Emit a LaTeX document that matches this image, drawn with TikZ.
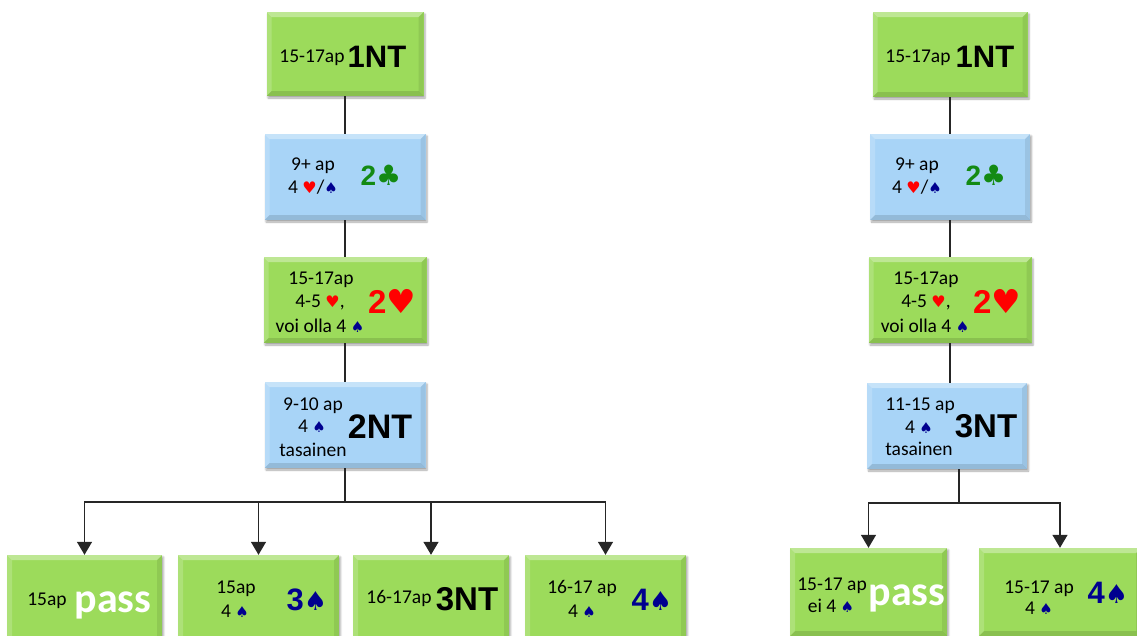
\documentclass[tikz,border=0pt]{standalone}
\usepackage{fontspec}
\setmainfont{Carlito}
\newfontfamily\bidfont{Liberation Sans}
\newfontfamily\suitfont{DejaVu Sans}
\usetikzlibrary{arrows.meta,shadows.blur}
\definecolor{boxgreen}{HTML}{9CDB5B}
\definecolor{boxblue}{HTML}{A8D4F7}
\definecolor{clubgreen}{HTML}{138A13}
\definecolor{spadeblue}{HTML}{00008F}
\definecolor{heartred}{HTML}{FF0000}
\newcommand{\hs}{{\suitfont\fontsize{16}{18}\selectfont\textcolor{heartred}{♥}}}
\newcommand{\ssp}{{\suitfont\fontsize{15}{17}\selectfont\textcolor{spadeblue}{♠}}}
\newcommand{\bsp}{{\suitfont\fontsize{26}{26}\selectfont ♠}}
\tikzset{
  bevel/.style={path picture={
    \path (path picture bounding box.north west) coordinate (pnw)
          (path picture bounding box.north east) coordinate (pne)
          (path picture bounding box.south west) coordinate (psw)
          (path picture bounding box.south east) coordinate (pse);
    \fill[white,opacity=0.35] (pnw) -- (pne) -- ([shift={(-5,5)}]pne) -- ([shift={(5,5)}]pnw) -- cycle;
    \fill[white,opacity=0.18] (pnw) -- ([shift={(5,5)}]pnw) -- ([shift={(5,-5)}]psw) -- (psw) -- cycle;
    \fill[black,opacity=0.12] (psw) -- ([shift={(5,-5)}]psw) -- ([shift={(-5,-5)}]pse) -- (pse) -- cycle;
    \fill[black,opacity=0.08] (pne) -- (pse) -- ([shift={(-5,-5)}]pse) -- ([shift={(-5,5)}]pne) -- cycle;
  }},
  bx/.style={rectangle, inner sep=0, bevel,
    blur shadow={shadow xshift=1.5pt, shadow yshift=-2pt, shadow opacity=35, shadow blur steps=4}},
  gbox/.style={bx, fill=boxgreen},
  bbox/.style={bx, fill=boxblue},
  txt/.style={anchor=base, inner sep=0, align=center, font=\fontsize{19.5}{22}\selectfont},
  bid/.style={anchor=base, inner sep=0, font=\bidfont\bfseries\fontsize{#1}{#1}\selectfont},
  passtxt/.style={anchor=base, inner sep=0, text=white, font=\bfseries\fontsize{42}{42}\selectfont},
  conn/.style={draw=black!85, line width=1.4pt},
  arr/.style={conn, -{Triangle[width=15pt,length=13pt]}},
}
\begin{document}
\begin{tikzpicture}[x=1pt,y=-1pt]
\useasboundingbox (0,0) rectangle (1137,635);
% ---------- left column ----------
\node[gbox, minimum width=157, minimum height=84] (L1) at (345,54) {};
\node[bbox, minimum width=161, minimum height=86] (L2) at (345,177) {};
\node[gbox, minimum width=163, minimum height=86] (L3) at (345,300) {};
\node[bbox, minimum width=161, minimum height=86] (L4) at (345,425) {};
\node[gbox, minimum width=155, minimum height=86] (B1) at (84.5,598) {};
\node[gbox, minimum width=161, minimum height=86] (B2) at (258.5,598) {};
\node[gbox, minimum width=156, minimum height=86] (B3) at (431,598) {};
\node[gbox, minimum width=161, minimum height=86] (B4) at (605.5,598) {};
% ---------- right column ----------
\node[gbox, minimum width=155, minimum height=85] (R1) at (950,54.5) {};
\node[bbox, minimum width=160, minimum height=86] (R2) at (950,177) {};
\node[gbox, minimum width=163, minimum height=86] (R3) at (950,300) {};
\node[bbox, minimum width=160, minimum height=86] (R4) at (947,426) {};
\node[gbox, minimum width=157, minimum height=88] (S1) at (868.5,592) {};
\node[gbox, minimum width=162, minimum height=88] (S2) at (1060,592) {};
% ---------- connectors ----------
\draw[conn] (L1.south) -- (L2.north);
\draw[conn] (L2.south) -- (L3.north);
\draw[conn] (L3.south) -- (L4.north);
\coordinate (busL) at (345,502);
\draw[conn] (L4.south) -- (busL);
\draw[arr] (busL) -| (B1.north);
\draw[arr] (busL) -| (B2.north);
\draw[arr] (busL) -| (B3.north);
\draw[arr] (busL) -| (B4.north);
\draw[conn] (R1.south) -- (R2.north);
\draw[conn] (R2.south) -- (R3.north);
\draw[conn] (R3.south) -- (R3.south |- R4.north);
\coordinate (busR) at (959,503);
\draw[conn] (R4.south -| busR) -- (busR);
\draw[arr] (busR) -| (S1.north);
\draw[arr] (busR) -| (S2.north);
% ---------- texts left ----------
\node[txt] (l1a) at (312,62) {15-17ap};
\node[bid=31] (l1b) at (377,67) {1NT};
\node[txt] (l2a) at (313,170) {9+ ap};
\node[txt] (l2b) at (313,193) {4 \hs/\ssp};
\node[bid=28, text=clubgreen] (l2c) at (381,185) {2{\suitfont ♣}};
\node[txt] (l3a) at (321,284) {15-17ap};
\node[txt] (l3b) at (320,307) {4-5 \hs,};
\node[txt] (l3c) at (320,332) {voi olla 4 \ssp};
\node[bid=33, text=heartred] (l3d) at (392,313) {2{\suitfont ♥}};
\node[txt] (l4a) at (313,410) {9-10 ap};
\node[txt] (l4b) at (312,432) {4 \ssp};
\node[txt] (l4c) at (313,456) {tasainen};
\node[bid=34] (l4d) at (380,438) {2NT};
\node[txt] (b1a) at (47,605) {15ap};
\node[passtxt] (b1b) at (113,612) {pass};
\node[txt] (b2a) at (236,593) {15ap};
\node[txt] (b2b) at (235,617) {4 \ssp};
\node[bid=31, text=spadeblue] (b2c) at (307,610) {3\bsp};
\node[txt] (b3a) at (399,603) {16-17ap};
\node[bid=33] (b3b) at (467,610) {3NT};
\node[txt] (b4a) at (582,593) {16-17 ap};
\node[txt] (b4b) at (582,617) {4 \ssp};
\node[bid=31, text=spadeblue] (b4c) at (652,610) {4\bsp};
% ---------- texts right ----------
\node[txt] (r1a) at (918,62) {15-17ap};
\node[bid=31] (r1b) at (985,67) {1NT};
\node[txt] (r2a) at (917,170) {9+ ap};
\node[txt] (r2b) at (917,193) {4 \hs/\ssp};
\node[bid=28, text=clubgreen] (r2c) at (986,185) {2{\suitfont ♣}};
\node[txt] (r3a) at (926,284) {15-17ap};
\node[txt] (r3b) at (926,307) {4-5 \hs,};
\node[txt] (r3c) at (925,332) {voi olla 4 \ssp};
\node[bid=33, text=heartred] (r3d) at (997,313) {2{\suitfont ♥}};
\node[txt] (r4a) at (920,410) {11-15 ap};
\node[txt] (r4b) at (919,433) {4 \ssp};
\node[txt] (r4c) at (919,455) {tasainen};
\node[bid=33] (r4d) at (986,437) {3NT};
\node[txt] (s1a) at (832,590) {15-17 ap};
\node[txt] (s1b) at (831,612) {ei 4 \ssp};
\node[passtxt] (s1c) at (907,605) {pass};
\node[txt] (s2a) at (1039,593) {15-17 ap};
\node[txt] (s2b) at (1039,614) {4 \ssp};
\node[bid=31, text=spadeblue] (s2c) at (1108,603) {4\bsp};
\end{tikzpicture}
\end{document}
